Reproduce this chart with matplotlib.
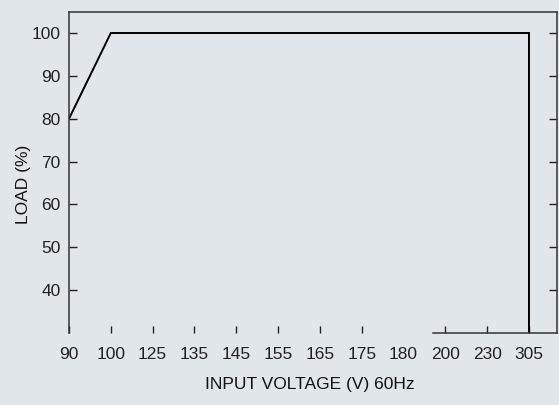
import matplotlib
matplotlib.use("Agg")
import matplotlib.pyplot as plt
from matplotlib import font_manager

# Category ticks along the input-voltage axis (equally spaced)
voltage_labels = ["90", "100", "125", "135", "145", "155", "165", "175", "180", "200", "230", "305"]
load_ticks = [40, 50, 60, 70, 80, 90, 100]

# Derating curve: voltage label -> load (%)
curve_volts = ["90", "100", "305", "305"]
curve_load = [80, 100, 100, 30]

bg = "#e1e6eb"
names = {f.name for f in font_manager.fontManager.ttflist}
font = "Liberation Sans Narrow" if "Liberation Sans Narrow" in names else "Liberation Sans"
plt.rcParams["font.family"] = [font, "DejaVu Sans"]

fig = plt.figure(figsize=(5.59, 4.05), dpi=100, facecolor=bg)
ax = fig.add_axes([69 / 559, 1 - 333 / 405, (557 - 69) / 559, (333 - 12) / 405])
ax.set_facecolor(bg)

xpos = [voltage_labels.index(v) for v in curve_volts]
ax.plot(xpos, curve_load, color="black", lw=1.4, solid_joinstyle="miter")

ax.set_xlim(0, 11.67)
ax.set_ylim(30, 104.9)

ax.set_xticks(range(len(voltage_labels)))
ax.set_xticklabels(voltage_labels, fontsize=12.5)
ax.set_yticks(load_ticks)
ax.set_yticklabels([str(v) for v in load_ticks], fontsize=12.5)

ax.tick_params(axis="x", direction="in", length=5, width=1, pad=10, colors="#222222")
ax.tick_params(axis="y", direction="in", length=6, width=1, pad=6, colors="#222222",
               right=True)
ax.xaxis.get_major_ticks()[8].tick1line.set_visible(False)

for s in ax.spines.values():
    s.set_color("#333333")
    s.set_linewidth(1.1)
ax.spines["bottom"].set_bounds(8.7, 11.67)

fig.text(24 / 559, 1 - 184 / 405, "LOAD (%)", rotation=90, ha="center", va="center",
         fontsize=12.5, color="#111111")
fig.text(310 / 559, 1 - 385 / 405, "INPUT VOLTAGE (V) 60Hz", ha="center", va="center",
         fontsize=12.5, color="#111111")

fig.savefig("out.png", dpi=100, facecolor=bg)
